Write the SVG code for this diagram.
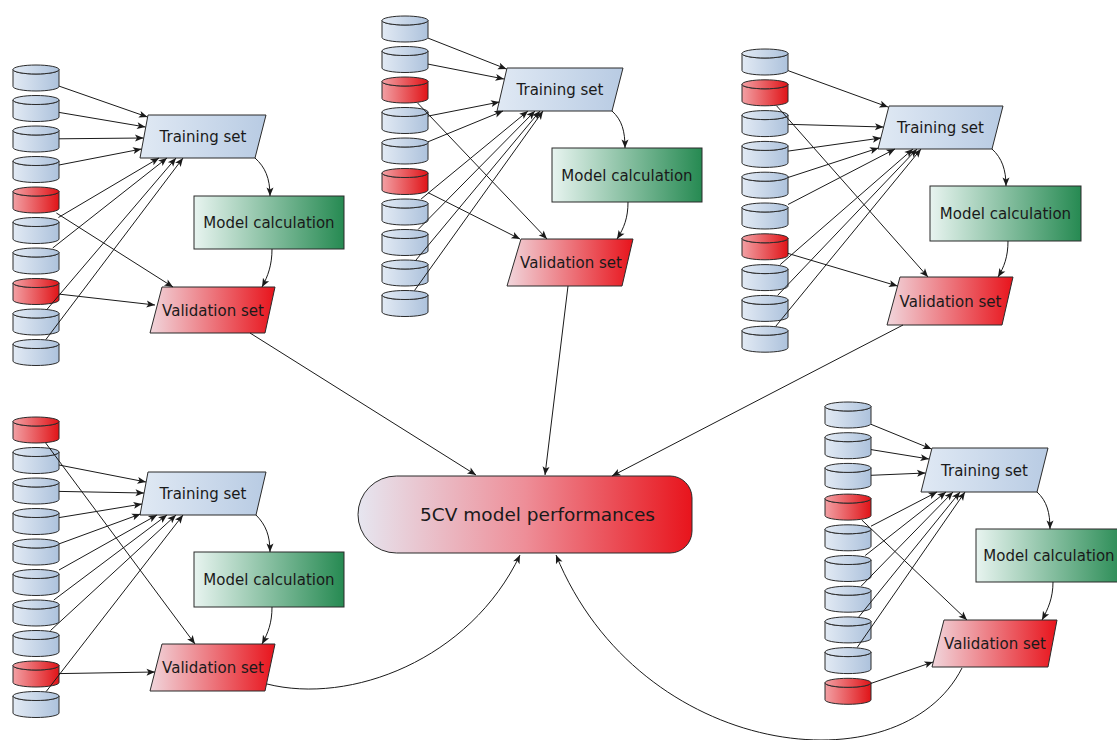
<svg xmlns="http://www.w3.org/2000/svg" width="1117" height="740" viewBox="0 0 1117 740">
<style>
.sh{stroke:#2b2b2b;stroke-width:1}
.lbl{font-family:"DejaVu Sans","Liberation Sans",sans-serif;font-size:15px;fill:#1a1a1a;text-anchor:middle}
.big{font-size:18.5px}
.cn line,.cn path{stroke:#1a1a1a;stroke-width:1;fill:none;marker-end:url(#arr)}
</style>
<defs>
<linearGradient id="gBlue"><stop offset="0" stop-color="#e2eaf4"/><stop offset="1" stop-color="#adc2dc"/></linearGradient>
<linearGradient id="gRed"><stop offset="0" stop-color="#f2a0a4"/><stop offset="1" stop-color="#e01418"/></linearGradient>
<linearGradient id="gTrain"><stop offset="0" stop-color="#e0e9f4"/><stop offset="1" stop-color="#b8cbe3"/></linearGradient>
<linearGradient id="gModel"><stop offset="0" stop-color="#e8f4f0"/><stop offset="1" stop-color="#268a52"/></linearGradient>
<linearGradient id="gVal"><stop offset="0" stop-color="#f1d6dc"/><stop offset="1" stop-color="#e8141c"/></linearGradient>
<linearGradient id="gPill"><stop offset="0" stop-color="#e6e6f0"/><stop offset="0.5" stop-color="#ee8e98"/><stop offset="1" stop-color="#e8141c"/></linearGradient>
<marker id="arr" markerUnits="userSpaceOnUse" viewBox="-9 -4.5 10 9" markerWidth="10" markerHeight="9" refX="0" refY="0" orient="auto">
<path d="M0,0 L-8.5,-3.5 L-6.5,0 L-8.5,3.5 Z" fill="#1a1a1a"/>
</marker>
<g id="cylB" class="sh" fill="url(#gBlue)" stroke="#404040">
<path d="M0,4.5 V21.5 A23,4.5 0 0 0 46,21.5 V4.5 A23,4.5 0 0 1 0,4.5 Z"/>
<ellipse cx="23" cy="4.5" rx="23" ry="4.5"/>
</g>
<g id="cylR" class="sh" fill="url(#gRed)" stroke="#404040">
<path d="M0,4.5 V21.5 A23,4.5 0 0 0 46,21.5 V4.5 A23,4.5 0 0 1 0,4.5 Z"/>
<ellipse cx="23" cy="4.5" rx="23" ry="4.5"/>
</g>
</defs>
<rect width="1117" height="740" fill="#ffffff"/>

<!-- Cluster A (top-left) -->
<g id="A-d0"><use href="#cylB" x="13" y="65"/></g>
<g id="A-d1"><use href="#cylB" x="13" y="95.5"/></g>
<g id="A-d2"><use href="#cylB" x="13" y="126"/></g>
<g id="A-d3"><use href="#cylB" x="13" y="156.5"/></g>
<g id="A-d4"><use href="#cylR" x="13" y="187"/></g>
<g id="A-d5"><use href="#cylB" x="13" y="217.5"/></g>
<g id="A-d6"><use href="#cylB" x="13" y="248"/></g>
<g id="A-d7"><use href="#cylR" x="13" y="278.5"/></g>
<g id="A-d8"><use href="#cylB" x="13" y="309"/></g>
<g id="A-d9"><use href="#cylB" x="13" y="339.5"/></g>
<g id="A-train"><polygon class="sh" fill="url(#gTrain)" points="148,115 266,115 255,158 140,158"/><text class="lbl" x="203" y="142">Training set</text></g>
<g id="A-model"><rect class="sh" fill="url(#gModel)" x="194" y="196" width="150" height="53"/><text class="lbl" x="269" y="227.5">Model calculation</text></g>
<g id="A-val"><polygon class="sh" fill="url(#gVal)" points="162,287 275,287 265,333 150,333"/><text class="lbl" x="213" y="315.5">Validation set</text></g>

<!-- Cluster B (top-center) -->
<g id="B-d0"><use href="#cylB" x="382" y="16"/></g>
<g id="B-d1"><use href="#cylB" x="382" y="46.5"/></g>
<g id="B-d2"><use href="#cylR" x="382" y="77"/></g>
<g id="B-d3"><use href="#cylB" x="382" y="107.5"/></g>
<g id="B-d4"><use href="#cylB" x="382" y="138"/></g>
<g id="B-d5"><use href="#cylR" x="382" y="168.5"/></g>
<g id="B-d6"><use href="#cylB" x="382" y="199"/></g>
<g id="B-d7"><use href="#cylB" x="382" y="229.5"/></g>
<g id="B-d8"><use href="#cylB" x="382" y="260"/></g>
<g id="B-d9"><use href="#cylB" x="382" y="290.5"/></g>
<g id="B-train"><polygon class="sh" fill="url(#gTrain)" points="507,68 623,68 612,111 497,111"/><text class="lbl" x="560" y="95">Training set</text></g>
<g id="B-model"><rect class="sh" fill="url(#gModel)" x="552" y="148" width="150" height="54"/><text class="lbl" x="627" y="180.5">Model calculation</text></g>
<g id="B-val"><polygon class="sh" fill="url(#gVal)" points="521,239 633,239 622,286 507,286"/><text class="lbl" x="571" y="268">Validation set</text></g>

<!-- Cluster C (top-right) -->
<g id="C-d0"><use href="#cylB" x="742" y="49"/></g>
<g id="C-d1"><use href="#cylR" x="742" y="79.8"/></g>
<g id="C-d2"><use href="#cylB" x="742" y="110.6"/></g>
<g id="C-d3"><use href="#cylB" x="742" y="141.4"/></g>
<g id="C-d4"><use href="#cylB" x="742" y="172.2"/></g>
<g id="C-d5"><use href="#cylB" x="742" y="203"/></g>
<g id="C-d6"><use href="#cylR" x="742" y="233.8"/></g>
<g id="C-d7"><use href="#cylB" x="742" y="264.6"/></g>
<g id="C-d8"><use href="#cylB" x="742" y="295.4"/></g>
<g id="C-d9"><use href="#cylB" x="742" y="326.2"/></g>
<g id="C-train"><polygon class="sh" fill="url(#gTrain)" points="889,106 1003,106 992,149 878,149"/><text class="lbl" x="940.5" y="133">Training set</text></g>
<g id="C-model"><rect class="sh" fill="url(#gModel)" x="930" y="186" width="151" height="55"/><text class="lbl" x="1005.5" y="219">Model calculation</text></g>
<g id="C-val"><polygon class="sh" fill="url(#gVal)" points="900,277 1013,277 1002,325 887,325"/><text class="lbl" x="950.5" y="306.5">Validation set</text></g>

<!-- Cluster D (bottom-left) -->
<g id="D-d0"><use href="#cylR" x="13" y="417"/></g>
<g id="D-d1"><use href="#cylB" x="13" y="447.5"/></g>
<g id="D-d2"><use href="#cylB" x="13" y="478"/></g>
<g id="D-d3"><use href="#cylB" x="13" y="508.5"/></g>
<g id="D-d4"><use href="#cylB" x="13" y="539"/></g>
<g id="D-d5"><use href="#cylB" x="13" y="569.5"/></g>
<g id="D-d6"><use href="#cylB" x="13" y="600"/></g>
<g id="D-d7"><use href="#cylB" x="13" y="630.5"/></g>
<g id="D-d8"><use href="#cylR" x="13" y="661"/></g>
<g id="D-d9"><use href="#cylB" x="13" y="691.5"/></g>
<g id="D-train"><polygon class="sh" fill="url(#gTrain)" points="148,472 266,472 256,515 140,515"/><text class="lbl" x="203" y="499">Training set</text></g>
<g id="D-model"><rect class="sh" fill="url(#gModel)" x="194" y="552" width="150" height="55"/><text class="lbl" x="269" y="585">Model calculation</text></g>
<g id="D-val"><polygon class="sh" fill="url(#gVal)" points="162,644 275,644 265,691 150,691"/><text class="lbl" x="213" y="673">Validation set</text></g>

<!-- Cluster E (bottom-right) -->
<g id="E-d0"><use href="#cylB" x="825" y="402"/></g>
<g id="E-d1"><use href="#cylB" x="825" y="432.7"/></g>
<g id="E-d2"><use href="#cylB" x="825" y="463.4"/></g>
<g id="E-d3"><use href="#cylR" x="825" y="494.1"/></g>
<g id="E-d4"><use href="#cylB" x="825" y="524.8"/></g>
<g id="E-d5"><use href="#cylB" x="825" y="555.5"/></g>
<g id="E-d6"><use href="#cylB" x="825" y="586.2"/></g>
<g id="E-d7"><use href="#cylB" x="825" y="616.9"/></g>
<g id="E-d8"><use href="#cylB" x="825" y="647.6"/></g>
<g id="E-d9"><use href="#cylR" x="825" y="678.3"/></g>
<g id="E-train"><polygon class="sh" fill="url(#gTrain)" points="932,448 1048,448 1037,492 921,492"/><text class="lbl" x="984.5" y="475.5">Training set</text></g>
<g id="E-model"><rect class="sh" fill="url(#gModel)" x="976" y="529" width="150" height="53"/><text class="lbl" x="1049" y="561">Model calculation</text></g>
<g id="E-val"><polygon class="sh" fill="url(#gVal)" points="944,620 1057,620 1048,667 932,667"/><text class="lbl" x="995" y="649">Validation set</text></g>

<!-- Result -->
<g id="perf"><path class="sh" fill="url(#gPill)" d="M396.5,476 H670 A22,22 0 0 1 692,498 V531 A22,22 0 0 1 670,553 H396.5 A38.5,38.5 0 0 1 396.5,476 Z"/><text class="lbl big" x="537.5" y="521">5CV model performances</text></g>

<g id="connectors" class="cn">
<!-- A -->
<line x1="59" y1="86.1" x2="147.5" y2="117"/>
<line x1="59" y1="112.4" x2="145.5" y2="127"/>
<line x1="59" y1="138.8" x2="143.5" y2="138"/>
<line x1="59" y1="165" x2="141.5" y2="149"/>
<line x1="58.4" y1="217.5" x2="159" y2="158"/>
<line x1="52.7" y1="248" x2="167" y2="158"/>
<line x1="47.3" y1="309" x2="176" y2="158"/>
<line x1="45.9" y1="339.5" x2="183" y2="158"/>
<line x1="56.4" y1="213" x2="173" y2="287"/>
<line x1="59" y1="294.1" x2="155" y2="305"/>
<path d="M255,158 C265,167 270,178 270,196"/>
<path d="M272,249 C272,265 268,276 262,287"/>
<line x1="250" y1="333" x2="476" y2="475"/>
<!-- B -->
<line x1="428" y1="38.1" x2="506.5" y2="69"/>
<line x1="428" y1="64.1" x2="504" y2="79"/>
<line x1="428" y1="116.1" x2="499.5" y2="102"/>
<line x1="428" y1="141.8" x2="503" y2="111"/>
<line x1="421.1" y1="199" x2="528" y2="111"/>
<line x1="418.1" y1="229.5" x2="535" y2="111"/>
<line x1="416" y1="260" x2="540" y2="111"/>
<line x1="414.5" y1="290.5" x2="543" y2="111"/>
<line x1="417.6" y1="103" x2="547" y2="239"/>
<line x1="428" y1="192.6" x2="520" y2="239"/>
<path d="M612,111 C622,120 625,131 625,148"/>
<path d="M628,202 C628,218 624,228 617,239"/>
<line x1="568" y1="286" x2="545" y2="475"/>
<!-- C -->
<line x1="788" y1="70.6" x2="888" y2="107"/>
<line x1="788" y1="124.3" x2="883.5" y2="127"/>
<line x1="788" y1="151.1" x2="881" y2="138"/>
<line x1="788" y1="177.5" x2="878.5" y2="148"/>
<line x1="788" y1="204.5" x2="895" y2="149"/>
<line x1="780.2" y1="264.6" x2="913" y2="149"/>
<line x1="777.6" y1="295.4" x2="917" y2="149"/>
<line x1="775.8" y1="326.2" x2="921" y2="149"/>
<line x1="776.6" y1="105.8" x2="928" y2="277"/>
<line x1="788" y1="253.4" x2="897.5" y2="286"/>
<path d="M992,149 C1002,158 1006,170 1006,186"/>
<path d="M1008,241 C1008,257 1004,267 998,277"/>
<line x1="903" y1="325" x2="612" y2="476"/>
<!-- D -->
<line x1="59" y1="465" x2="146" y2="482"/>
<line x1="59" y1="491.4" x2="144" y2="493"/>
<line x1="59" y1="517.6" x2="142" y2="504"/>
<line x1="59" y1="543.9" x2="140.5" y2="514"/>
<line x1="59" y1="570" x2="157" y2="515"/>
<line x1="53.8" y1="600" x2="167" y2="515"/>
<line x1="50.5" y1="630.5" x2="176" y2="515"/>
<line x1="46.2" y1="691.5" x2="183" y2="515"/>
<line x1="45.7" y1="443" x2="195" y2="644"/>
<line x1="59" y1="673.6" x2="155" y2="672"/>
<path d="M256,515 C266,525 270,536 270,552"/>
<path d="M272,607 C272,623 268,633 262,644"/>
<path d="M267,684 C350,705 470,660 520,555"/>
<!-- E -->
<line x1="871" y1="424.3" x2="931.5" y2="449"/>
<line x1="871" y1="449.6" x2="929" y2="459"/>
<line x1="871" y1="475.3" x2="925.5" y2="473"/>
<line x1="871" y1="526.2" x2="937" y2="492"/>
<line x1="865.2" y1="555.5" x2="946" y2="492"/>
<line x1="861.1" y1="586.2" x2="953" y2="492"/>
<line x1="858.8" y1="616.9" x2="960" y2="492"/>
<line x1="857.1" y1="647.6" x2="965" y2="492"/>
<line x1="861.9" y1="520.1" x2="967" y2="620"/>
<line x1="871" y1="683.4" x2="933" y2="662"/>
<path d="M1037,492 C1047,501 1050,513 1050,529"/>
<path d="M1053,582 C1053,598 1048,609 1042,620"/>
<path d="M962,668 C900,790 640,760 556,555"/>
</g>
</svg>
